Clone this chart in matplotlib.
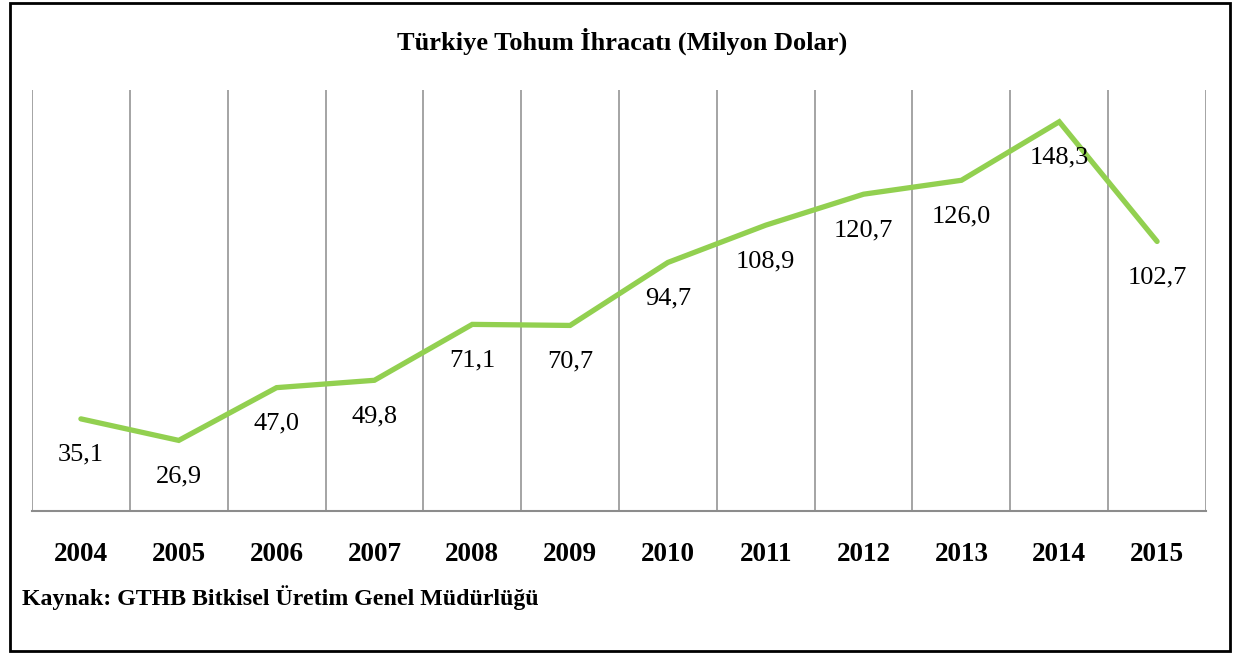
import numpy as np
import matplotlib
matplotlib.use("Agg")
import matplotlib.pyplot as plt
from matplotlib.patches import Rectangle

plt.rcParams['font.family'] = ['Liberation Serif', 'DejaVu Serif']

# data
years = ['2004', '2005', '2006', '2007', '2008', '2009',
         '2010', '2011', '2012', '2013', '2014', '2015']
exports = [35.1, 26.9, 47.0, 49.8, 71.1, 70.7,
           94.7, 108.9, 120.7, 126.0, 148.3, 102.7]

title = 'Türkiye Tohum İhracatı (Milyon Dolar)'
source = 'Kaynak: GTHB Bitkisel Üretim Genel Müdürlüğü'

W, H = 1236, 653
fig = plt.figure(figsize=(W / 100, H / 100), dpi=100)

# outer frame
fig.patches.append(Rectangle((10 / W, 2 / H), 1220 / W, 648 / H,
                             transform=fig.transFigure, fill=False,
                             edgecolor='black', linewidth=2))

ax = fig.add_axes([32 / W, (H - 511) / H, (1206 - 32) / W, (511 - 90) / H])

x = np.arange(len(years))
ax.plot(x, exports, color='#92D050', linewidth=3.8, solid_capstyle='round',
        solid_joinstyle='miter')

# value labels under each point
for xi, v in zip(x, exports):
    ax.annotate(f'{v:.1f}'.replace('.', ','), (xi, v), xytext=(0, -36),
                textcoords='offset pixels', ha='center', va='center',
                fontsize=19)

ax.set_xlim(-0.5, len(years) - 0.5)
ax.set_ylim(0, 160.4)

ax.set_xticks(x)
ax.set_xticklabels(years, fontsize=19.5, fontweight='bold')
ax.set_xticks(np.arange(-0.5, len(years)), minor=True)
ax.tick_params(axis='x', which='both', length=0, pad=22)
ax.set_yticks([])
ax.grid(which='minor', axis='x', color='#8c8c8c', linewidth=1.1)

for side in ['top', 'right', 'left']:
    ax.spines[side].set_visible(False)
ax.spines['bottom'].set_color('#8c8c8c')
ax.spines['bottom'].set_linewidth(1.5)

fig.text(622 / W, 1 - 41 / H, title, ha='center', va='center',
         fontsize=19, fontweight='bold')
fig.text(22 / W, 1 - 598 / H, source, ha='left', va='center',
         fontsize=17.2, fontweight='bold')

fig.savefig('out.png', dpi=100)
